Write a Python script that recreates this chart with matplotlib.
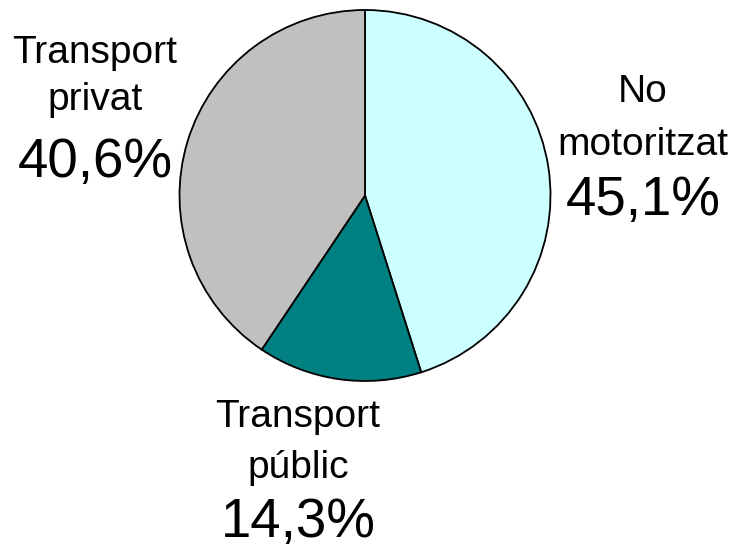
import matplotlib
matplotlib.use("Agg")
import matplotlib.pyplot as plt

plt.rcParams['font.family'] = ['Liberation Sans', 'DejaVu Sans']

# slices, clockwise from 12 o'clock
labels = ["No\nmotoritzat", "Transport\npúblic", "Transport\nprivat"]
values = [45.1, 14.3, 40.6]
colors = ["#CCFFFF", "#008080", "#C0C0C0"]

# label anchor points in pixels (centre x, baseline of each line)
label_px = [(643, [102, 155], 215),
            (298, [427, 478], 537),
            (95, [63, 110], 177)]

W, H = 735, 552
CX, CY, R = 365, 195.5, 185.5


def to_data(px, py):
    return (px - CX) / R, (CY - py) / R


fig = plt.figure(figsize=(W / 100, H / 100), dpi=100)
ax = fig.add_axes([0, 0, 1, 1])
ax.pie(values, colors=colors, startangle=90, counterclock=False,
       wedgeprops=dict(edgecolor='black', linewidth=1.3))
ax.set_xlim(-CX / R, (W - CX) / R)
ax.set_ylim(-(H - CY) / R, CY / R)
ax.set_aspect('equal')
ax.axis('off')

for lab, val, (px, line_ys, pct_y) in zip(labels, values, label_px):
    for line, py in zip(lab.split("\n"), line_ys):
        x, y = to_data(px, py)
        ax.text(x, y, line, ha='center', va='baseline', fontsize=28)
    x, y = to_data(px, pct_y)
    pct = f"{val:.1f}".replace(".", ",") + "%"
    ax.text(x, y, pct, ha='center', va='baseline', fontsize=39.3)

fig.savefig("out.png", dpi=100)
